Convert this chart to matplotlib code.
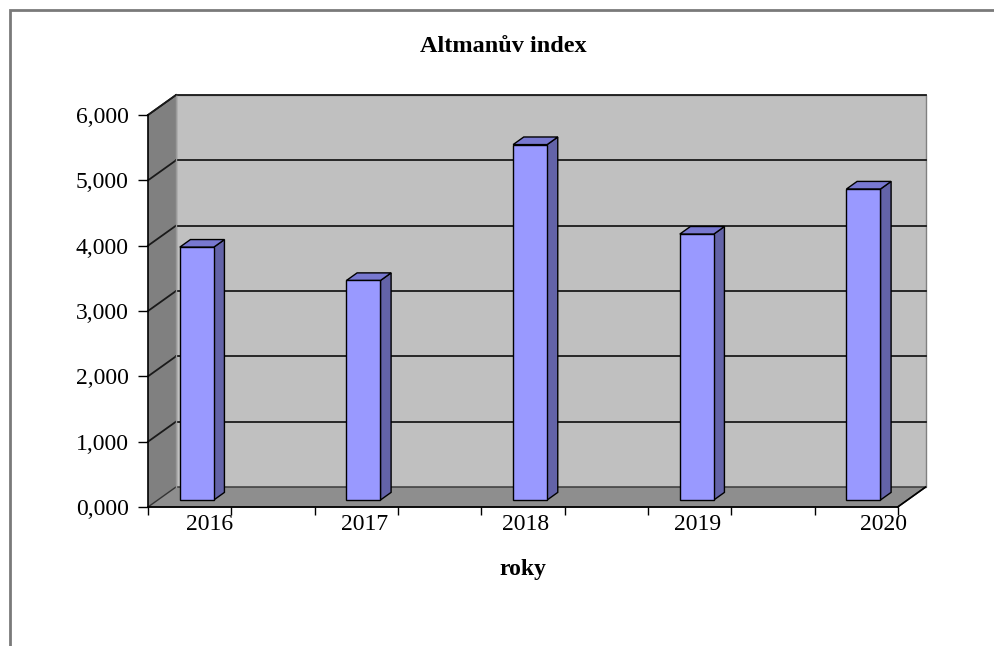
import matplotlib
matplotlib.use("Agg")
import matplotlib.pyplot as plt
from matplotlib.patches import Polygon, Rectangle
import numpy as np

# ---- data ----
years = ["2016", "2017", "2018", "2019", "2020"]
values = [3.87, 3.36, 5.44, 4.07, 4.76]
yticks = [0, 1, 2, 3, 4, 5, 6]
title = "Altmanův index"
xlabel = "roky"

# ---- layout / style ----
W, H = 994, 646
fig = plt.figure(figsize=(W / 100, H / 100), dpi=100)
plt.rcParams['font.family'] = ['Liberation Serif', 'DejaVu Serif']

ax_left, ax_right, ax_bottom, ax_top = 148, 898, 507, 115
ax = fig.add_axes([ax_left / W, 1 - ax_bottom / H,
                   (ax_right - ax_left) / W, (ax_bottom - ax_top) / H])
xmin, xmax = -0.234, 4.264
ymin, ymax = 0, 6
ax.set_xlim(xmin, xmax)
ax.set_ylim(ymin, ymax)

# depth offsets in data units (28 px right, 20 px up)
px_x = (xmax - xmin) / (ax_right - ax_left)
px_y = (ymax - ymin) / (ax_bottom - ax_top)
DX, DY = 28 * px_x, 20 * px_y

wall_c = "#c0c0c0"
side_c = "#808080"
floor_c = "#8e8e8e"

# back wall
ax.add_patch(Polygon([(xmin + DX, ymin + DY), (xmax + DX, ymin + DY),
                      (xmax + DX, ymax + DY), (xmin + DX, ymax + DY)],
                     closed=True, facecolor=wall_c, edgecolor="#808080",
                     lw=1.0, clip_on=False, zorder=1))
# side wall
ax.add_patch(Polygon([(xmin, ymin), (xmin + DX, ymin + DY),
                      (xmin + DX, ymax + DY), (xmin, ymax)],
                     closed=True, facecolor=side_c, edgecolor="none",
                     clip_on=False, zorder=1))
# floor
ax.add_patch(Polygon([(xmin, ymin), (xmax, ymin), (xmax + DX, ymin + DY),
                      (xmin + DX, ymin + DY)],
                     closed=True, facecolor=floor_c, edgecolor="#333333",
                     lw=1.0, clip_on=False, zorder=1))
# gridlines
for t in yticks[1:]:
    ax.plot([xmin + DX, xmax + DX], [t + DY, t + DY], color="#1a1a1a",
            lw=1.3, clip_on=False, zorder=2)
    ax.plot([xmin, xmin + DX], [t, t + DY], color="#1a1a1a",
            lw=1.3, clip_on=False, zorder=2)
ax.plot([xmin + DX, xmin + DX], [ymin + DY, ymax + DY], color="#9a9a9a",
        lw=1.0, clip_on=False, zorder=2)

# bars
bw = 0.204
f0 = 0.35
bd = 0.38
front_c = "#9999ff"
top_c = "#7878d0"
side_bc = "#6363a8"
for i, v in enumerate(values):
    ox, oy = f0 * DX, f0 * DY
    x0 = i - bw / 2 + ox
    x1 = i + bw / 2 + ox
    y0 = oy
    y1 = v + oy
    ddx, ddy = bd * DX, bd * DY
    ax.add_patch(Polygon([(x1, y0), (x1 + ddx, y0 + ddy), (x1 + ddx, y1 + ddy),
                          (x1, y1)], closed=True, facecolor=side_bc,
                         edgecolor="black", lw=1.0, zorder=4, clip_on=False))
    ax.add_patch(Polygon([(x0, y1), (x1, y1), (x1 + ddx, y1 + ddy),
                          (x0 + ddx, y1 + ddy)], closed=True, facecolor=top_c,
                         edgecolor="black", lw=1.0, zorder=4, clip_on=False))
    ax.add_patch(Rectangle((x0, y0), x1 - x0, y1 - y0, facecolor=front_c,
                           edgecolor="black", lw=1.0, zorder=5, clip_on=False))

# axes spines
for s in ["top", "right"]:
    ax.spines[s].set_visible(False)
ax.spines["left"].set_color("black")
ax.spines["bottom"].set_color("black")
ax.spines["left"].set_linewidth(1.2)
ax.spines["bottom"].set_linewidth(1.2)
ax.spines["left"].set_zorder(6)
ax.spines["bottom"].set_zorder(6)
ax.patch.set_visible(False)
# right floor edge
ax.plot([xmax, xmax + DX], [ymin, ymin + DY], color="black", lw=1.2,
        clip_on=False, zorder=6)
ax.plot([xmin, xmin + DX], [ymax, ymax + DY], color="#1a1a1a", lw=1.2,
        clip_on=False, zorder=6)

# y ticks
ax.set_yticks(yticks)
ax.set_yticklabels([f"{t},000" for t in yticks])
ax.tick_params(axis="y", direction="out", length=7, width=1.0, pad=7,
               labelsize=17, colors="black")

# x ticks: marks as major, labels as minor
ax.set_xticks([xmin + 0.5 * k for k in range(10)])
ax.set_xticklabels([])
ax.tick_params(axis="x", which="major", direction="out", length=6, width=1.0)
label_pos = [0.138, 1.064, 2.033, 3.064, 4.177]
ax.set_xticks(label_pos, minor=True)
ax.set_xticklabels(years, minor=True)
ax.tick_params(axis="x", which="minor", length=0, pad=5, labelsize=17)

ax.set_xlabel(xlabel, fontsize=17, fontweight="bold", labelpad=17)
fig.text(503 / W, 1 - 47 / H, title, ha="center", va="center",
         fontsize=17.5, fontweight="bold")

# outer frame
fig.patches.append(Rectangle((10 / W, -0.1), 1.2, 1 - 10 / H + 0.1,
                             transform=fig.transFigure, fill=False,
                             edgecolor="#7a7a7a", lw=2.0))

fig.savefig("out.png", dpi=100, facecolor="white")
